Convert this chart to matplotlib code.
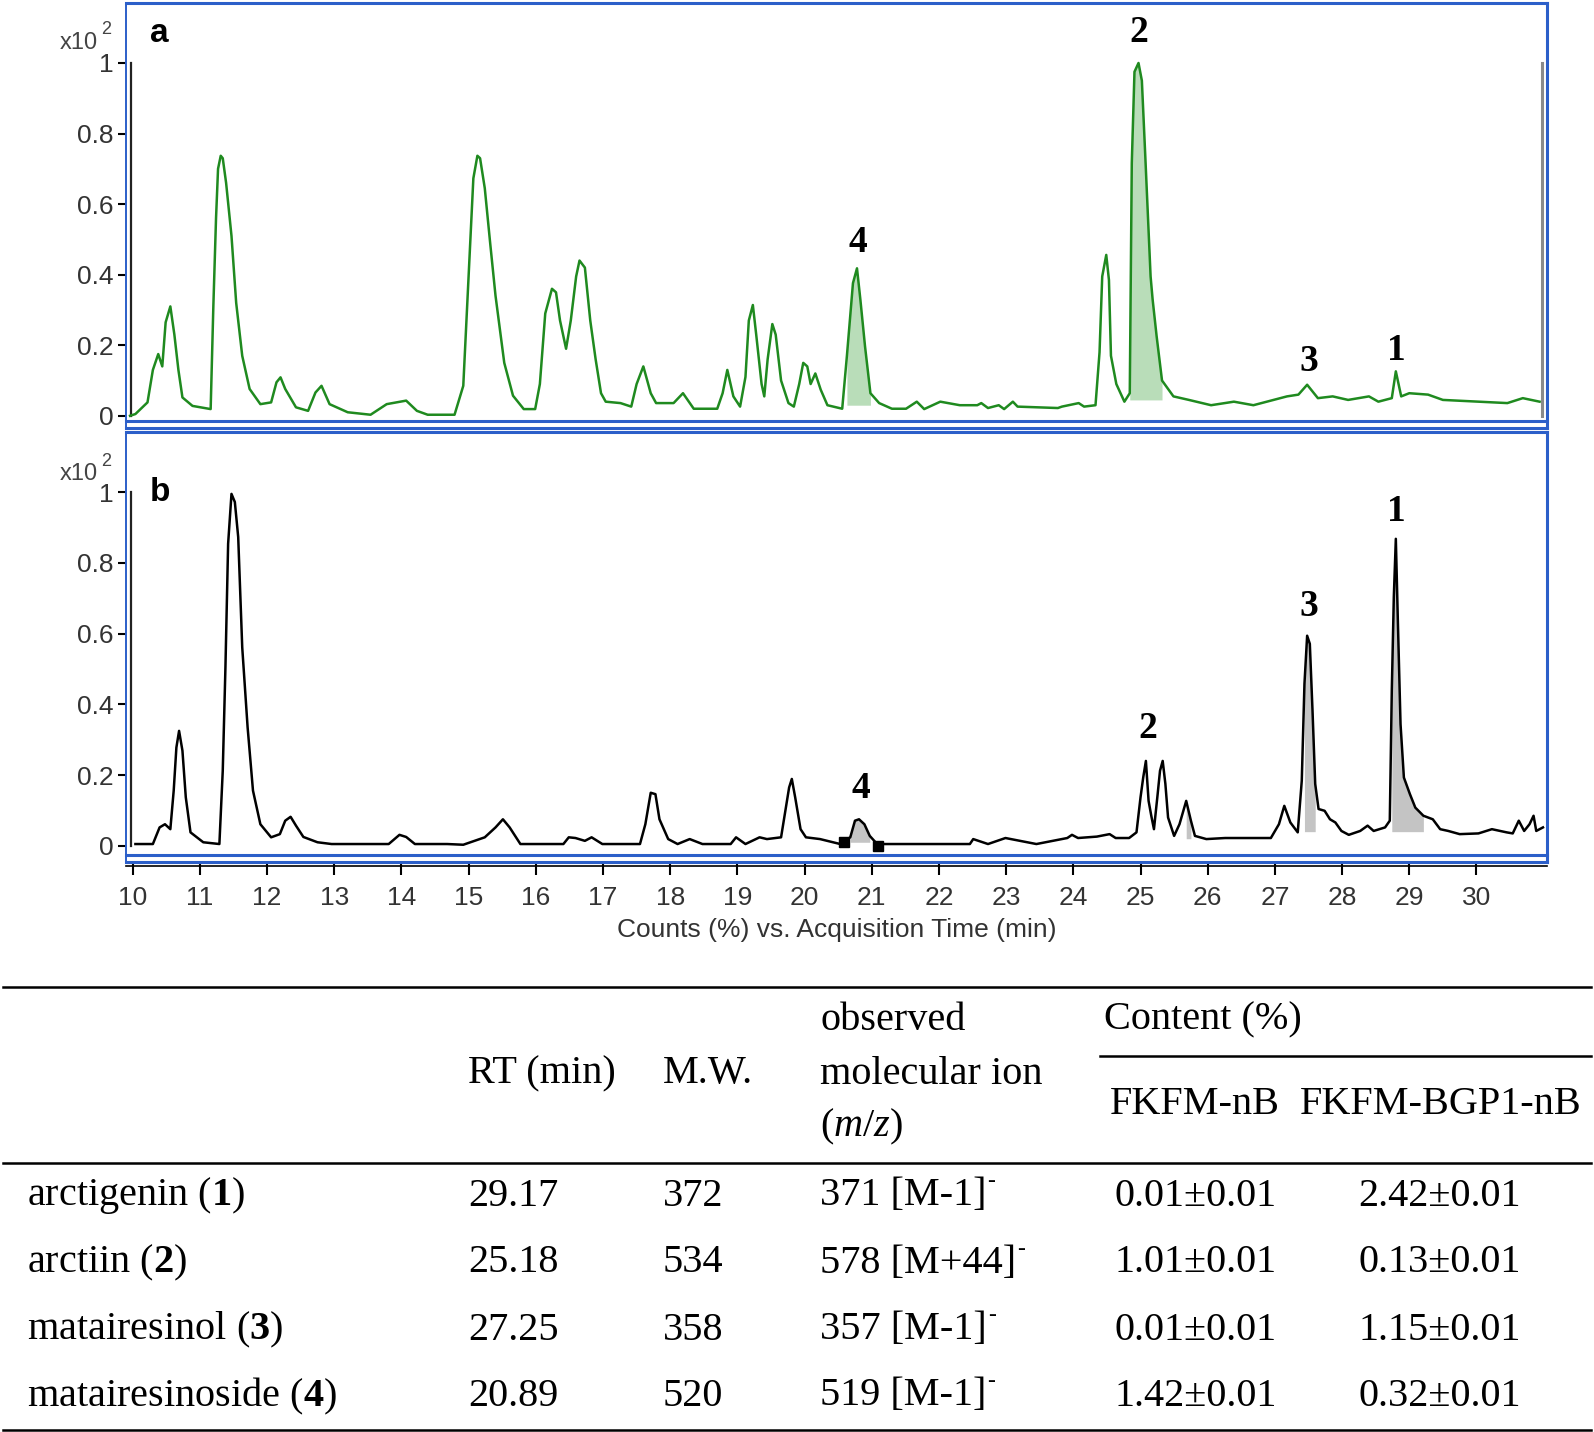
import matplotlib
matplotlib.use("Agg")
import matplotlib.pyplot as plt
from matplotlib.lines import Line2D
import numpy as np

# ---------------- data ----------------
# Panel a (green trace): retention time (min), relative counts (x10^2)
top_t = [9.96, 10.04, 10.22, 10.30, 10.38, 10.44, 10.49, 10.56, 10.62, 10.68, 10.74, 10.89,
         11.16, 11.20, 11.24, 11.27, 11.31, 11.34, 11.39, 11.47, 11.54, 11.63, 11.74, 11.90, 12.06,
         12.14, 12.20, 12.27, 12.43, 12.61, 12.72, 12.81, 12.93, 13.20, 13.54, 13.78, 14.07,
         14.23, 14.39, 14.79, 14.92, 15.00, 15.07, 15.13, 15.17, 15.24, 15.32, 15.40, 15.53, 15.66,
         15.82, 15.99, 16.06, 16.14, 16.24, 16.30, 16.36, 16.45, 16.52, 16.60, 16.65, 16.73,
         16.81, 16.89, 16.97, 17.04, 17.26, 17.42, 17.50, 17.60, 17.71, 17.79, 18.05, 18.19,
         18.35, 18.70, 18.78, 18.85, 18.94, 19.04, 19.12, 19.17, 19.23, 19.28, 19.36, 19.40,
         19.45, 19.52, 19.57, 19.65, 19.76, 19.84, 19.92, 19.98, 20.04, 20.09, 20.16, 20.24,
         20.34, 20.56, 20.63, 20.72, 20.78, 20.83, 20.90, 20.98, 21.11, 21.30, 21.51, 21.67,
         21.78, 22.02, 22.31, 22.57, 22.63, 22.73, 22.89, 22.97, 23.10, 23.17, 23.77, 23.83,
         24.08, 24.16, 24.33, 24.39, 24.43, 24.49, 24.53, 24.56, 24.64, 24.76, 24.84, 24.87,
         24.91, 24.97, 25.02, 25.07, 25.11, 25.15, 25.18, 25.24, 25.32, 25.49, 25.72, 26.05,
         26.39, 26.68, 27.18, 27.35, 27.48, 27.64, 27.86, 28.09, 28.40, 28.54, 28.74, 28.80,
         28.88, 29.00, 29.28, 29.50, 30.46, 30.69, 30.94]
top_v = [0.000, 0.005, 0.038, 0.130, 0.175, 0.140, 0.265, 0.310, 0.230, 0.130, 0.052, 0.028,
         0.019, 0.310, 0.560, 0.700, 0.737, 0.730, 0.660, 0.510, 0.320, 0.170, 0.076, 0.033, 0.038,
         0.095, 0.109, 0.076, 0.024, 0.014, 0.066, 0.085, 0.033, 0.010, 0.003, 0.033, 0.043,
         0.014, 0.003, 0.003, 0.085, 0.400, 0.673, 0.737, 0.730, 0.645, 0.490, 0.340, 0.150, 0.057,
         0.019, 0.019, 0.090, 0.290, 0.360, 0.350, 0.270, 0.190, 0.270, 0.395, 0.440, 0.420,
         0.270, 0.160, 0.064, 0.040, 0.036, 0.026, 0.090, 0.140, 0.064, 0.036, 0.036, 0.064,
         0.020, 0.020, 0.064, 0.130, 0.055, 0.026, 0.110, 0.270, 0.314, 0.230, 0.090, 0.055,
         0.160, 0.260, 0.230, 0.100, 0.036, 0.026, 0.090, 0.150, 0.140, 0.090, 0.120, 0.074,
         0.030, 0.020, 0.170, 0.376, 0.418, 0.330, 0.196, 0.064, 0.036, 0.020, 0.020, 0.040,
         0.019, 0.040, 0.030, 0.030, 0.036, 0.022, 0.030, 0.019, 0.040, 0.026, 0.022, 0.026,
         0.036, 0.026, 0.030, 0.180, 0.395, 0.456, 0.385, 0.170, 0.090, 0.040, 0.064, 0.716,
         0.975, 1.000, 0.950, 0.740, 0.565, 0.395, 0.330, 0.225, 0.100, 0.055, 0.045, 0.030,
         0.040, 0.030, 0.055, 0.060, 0.088, 0.050, 0.055, 0.045, 0.055, 0.040, 0.050, 0.126,
         0.055, 0.064, 0.060, 0.045, 0.036, 0.050, 0.040]

# Panel b (black trace)
bot_t = [10.04, 10.30, 10.40, 10.48, 10.56, 10.61, 10.65, 10.69, 10.74, 10.79, 10.86, 11.05,
         11.29, 11.34, 11.38, 11.42, 11.47, 11.52, 11.57, 11.63, 11.71, 11.79, 11.90, 12.06,
         12.19, 12.27, 12.35, 12.43, 12.54, 12.75, 12.96, 13.81, 13.97, 14.07, 14.20, 14.68,
         14.92, 15.24, 15.40, 15.51, 15.61, 15.77, 16.41, 16.49, 16.59, 16.73, 16.83, 16.99,
         17.55, 17.63, 17.71, 17.78, 17.84, 17.97, 18.11, 18.29, 18.48, 18.90, 18.98, 19.12,
         19.33, 19.44, 19.65, 19.73, 19.77, 19.81, 19.86, 19.94, 20.02, 20.23, 20.53, 20.68,
         20.75, 20.81, 20.89, 20.97, 21.08, 21.29, 22.46, 22.51, 22.73, 22.99, 23.45, 23.91,
         23.98, 24.07, 24.35, 24.54, 24.63, 24.83, 24.94, 25.00, 25.04, 25.08, 25.12, 25.16,
         25.20, 25.25, 25.29, 25.33, 25.37, 25.41, 25.50, 25.58, 25.68, 25.75, 25.81, 25.98,
         26.26, 26.94, 27.06, 27.14, 27.23, 27.34, 27.40, 27.44, 27.48, 27.52, 27.56, 27.60,
         27.65, 27.74, 27.82, 27.90, 27.99, 28.10, 28.27, 28.38, 28.47, 28.64, 28.71, 28.74,
         28.77, 28.80, 28.83, 28.87, 28.92, 29.01, 29.09, 29.21, 29.35, 29.46, 29.58, 29.75,
         30.03, 30.23, 30.45, 30.54, 30.63, 30.71, 30.79, 30.85, 30.89, 30.99]
bot_v = [0.005, 0.005, 0.052, 0.061, 0.047, 0.156, 0.278, 0.325, 0.269, 0.137, 0.038, 0.010,
         0.005, 0.212, 0.505, 0.854, 0.995, 0.972, 0.873, 0.561, 0.335, 0.156, 0.061, 0.024,
         0.033, 0.071, 0.082, 0.057, 0.025, 0.010, 0.005, 0.005, 0.031, 0.025, 0.005, 0.005,
         0.003, 0.024, 0.052, 0.075, 0.052, 0.005, 0.005, 0.024, 0.022, 0.014, 0.024, 0.005,
         0.005, 0.061, 0.150, 0.146, 0.075, 0.019, 0.005, 0.019, 0.005, 0.005, 0.024, 0.005,
         0.024, 0.019, 0.024, 0.118, 0.165, 0.189, 0.137, 0.047, 0.024, 0.019, 0.005, 0.024,
         0.071, 0.075, 0.061, 0.028, 0.005, 0.005, 0.005, 0.019, 0.005, 0.022, 0.005, 0.022,
         0.031, 0.022, 0.026, 0.033, 0.022, 0.022, 0.038, 0.137, 0.193, 0.240, 0.127, 0.085,
         0.047, 0.137, 0.212, 0.240, 0.175, 0.080, 0.028, 0.061, 0.127, 0.071, 0.028, 0.019,
         0.022, 0.022, 0.061, 0.113, 0.066, 0.038, 0.184, 0.458, 0.594, 0.571, 0.382, 0.175,
         0.104, 0.099, 0.075, 0.066, 0.042, 0.031, 0.042, 0.057, 0.042, 0.052, 0.071, 0.439,
         0.703, 0.868, 0.637, 0.344, 0.193, 0.146, 0.108, 0.085, 0.075, 0.047, 0.042, 0.033,
         0.035, 0.047, 0.038, 0.035, 0.071, 0.042, 0.061, 0.085, 0.042, 0.052]

# integrated (shaded) peak windows
top_fill = [(20.60, 20.99, 0.03), (24.84, 25.33, 0.045)]
bot_fill = [(20.66, 20.98, 0.01), (25.62, 25.80, 0.02), (27.42, 27.62, 0.04), (28.72, 29.30, 0.04)]
bot_marks_t = [20.58, 21.10]
bot_marks_v = [0.01, 0.0]

# peak annotations
top_labels = ["2", "4", "3", "1"]
top_label_t = [24.97, 20.80, 27.50, 28.81]
top_label_v = [1.085, 0.49, 0.155, 0.184]
bot_labels = ["1", "3", "2", "4"]
bot_label_t = [28.81, 27.51, 25.11, 20.84]
bot_label_v = [0.946, 0.678, 0.333, 0.163]

x_ticks = list(range(10, 31))
y_ticks = [0, 0.2, 0.4, 0.6, 0.8, 1.0]
y_ticklabels = ["0", "0.2", "0.4", "0.6", "0.8", "1"]

# table
col_headers_rt = "RT (min)"
col_headers_mw = "M.W."
compounds = [r"arctigenin ($\mathbf{1}$)", r"arctiin ($\mathbf{2}$)",
             r"matairesinol ($\mathbf{3}$)", r"matairesinoside ($\mathbf{4}$)"]
rt_values = ["29.17", "25.18", "27.25", "20.89"]
mw_values = ["372", "534", "358", "520"]
ion_values = ["371 [M-1]", "578 [M+44]", "357 [M-1]", "519 [M-1]"]
fkfm_nb = ["0.01\u00b10.01", "1.01\u00b10.01", "0.01\u00b10.01", "1.42\u00b10.01"]
fkfm_bgp1 = ["2.42\u00b10.01", "0.13\u00b10.01", "1.15\u00b10.01", "0.32\u00b10.01"]

# ---------------- styling ----------------
plt.rcParams['mathtext.fontset'] = 'custom'
plt.rcParams['mathtext.rm'] = 'Liberation Serif'
plt.rcParams['mathtext.bf'] = 'Liberation Serif:bold'
plt.rcParams['mathtext.it'] = 'Liberation Serif:italic'

W, H = 1594, 1432
fig = plt.figure(figsize=(W / 100, H / 100), dpi=100)
fig.patch.set_facecolor('white')

def fx(x):
    return x / W

def fy(y):
    return 1 - y / H

BLUE = '#2c5fc9'
GREEN = '#1f8a1f'
SANS = ['Liberation Sans Narrow', 'Liberation Sans', 'DejaVu Sans']
SERIF = ['Liberation Serif', 'DejaVu Serif']

L, R = 126, 1547
ax1 = fig.add_axes([fx(L), fy(428), fx(R) - fx(L), fy(3) - fy(428)])
ax2 = fig.add_axes([fx(L), fy(862), fx(R) - fx(L), fy(432) - fy(862)])

ax1.set_ylim(-0.0346, 1.170)
ax2.set_ylim(-0.0458, 1.170)

for ax in (ax1, ax2):
    ax.set_xlim(9.90, 31.05)
    for s in ax.spines.values():
        s.set_color(BLUE)
        s.set_linewidth(2.2)
    ax.spines['left'].set_linewidth(1.4)
    ax.set_yticks(y_ticks)
    ax.set_yticklabels(y_ticklabels, family=SANS, fontsize=19, color='#333333')
    ax.tick_params(axis='y', direction='out', length=6, width=1.5, color='black', pad=3)
    ax.add_line(Line2D([9.975, 9.975], [0, 1], color='#222222', lw=1.6))

ax1.set_xticks([])
ax2.set_xticks(x_ticks)
ax2.set_xticklabels([str(t) for t in x_ticks], family=SANS, fontsize=19, color='#333333')
ax2.tick_params(axis='x', direction='out', length=9, width=1.5, color='black', pad=8)
ax2.set_xlabel("Counts (%) vs. Acquisition Time (min)", family=SANS, fontsize=19,
               color='#333333', labelpad=6)

# traces
top_t_a = np.array(top_t)
top_v_a = np.array(top_v)
bot_t_a = np.array(bot_t)
bot_v_a = np.array(bot_v)

for a, b, base in top_fill:
    m = (top_t_a >= a) & (top_t_a <= b)
    ax1.fill_between(top_t_a[m], top_v_a[m], base, color='#b9ddb9', lw=0)
ax1.plot(top_t_a, top_v_a, color=GREEN, lw=1.8)
ax1.plot([30.98, 30.98], [0, 1], color='#8a8a8a', lw=2.2)

for a, b, base in bot_fill:
    m = (bot_t_a >= a) & (bot_t_a <= b)
    ax2.fill_between(bot_t_a[m], bot_v_a[m], base, color='#c4c4c4', lw=0)
ax2.plot(bot_t_a, bot_v_a, color='black', lw=1.8)
ax2.plot(bot_marks_t, bot_marks_v, ls='none', marker='s', ms=7, color='black')

for lab, t, v in zip(top_labels, top_label_t, top_label_v):
    ax1.text(t, v, lab, ha='center', va='center', family=SERIF, fontweight='bold', fontsize=27)
for lab, t, v in zip(bot_labels, bot_label_t, bot_label_v):
    ax2.text(t, v, lab, ha='center', va='center', family=SERIF, fontweight='bold', fontsize=27)

# panel letters and multipliers
fig.text(fx(150), fy(33), "a", family='Liberation Sans', fontweight='bold', fontsize=24,
         ha='left', va='center')
fig.text(fx(150), fy(493), "b", family='Liberation Sans', fontweight='bold', fontsize=24,
         ha='left', va='center')
for yy in (43, 474):
    fig.text(fx(98), fy(yy), "x10", family=SANS, fontsize=17, color='#444444',
             ha='right', va='center')
    fig.text(fx(101), fy(yy - 13), "2", family=SANS, fontsize=13, color='#444444',
             ha='left', va='center')

# extra frame lines (double blue rule under each panel, black axis line)
for y in (421, 855):
    fig.add_artist(Line2D([fx(L), fx(R)], [fy(y), fy(y)], color=BLUE, lw=2.2))
fig.add_artist(Line2D([fx(L), fx(R)], [fy(866), fy(866)], color='black', lw=1.2))

# ---------------- table ----------------
TS = 29
rule_x0, rule_x1 = 3, 1591
def hline(y, x0=rule_x0, x1=rule_x1, lw=1.8):
    fig.add_artist(Line2D([fx(x0), fx(x1)], [fy(y), fy(y)], color='black', lw=lw))

hline(987)
hline(1056, x0=1100)
hline(1163)
hline(1430)

def ttext(x, y, s, **kw):
    return fig.text(fx(x), fy(y), s, family=SERIF, fontsize=TS, ha='left', va='center', **kw)

ttext(820, 1020, "observed")
ttext(820, 1074, "molecular ion")
ttext(820, 1127, r"($\mathit{m/z}$)")
ttext(468, 1074, col_headers_rt)
ttext(663, 1074, col_headers_mw)
ttext(1104, 1020, "Content (%)")
ttext(1110, 1105, "FKFM-nB")
ttext(1300, 1105, "FKFM-BGP1-nB")

row_y = [1196, 1263, 1330, 1396]
ion_texts = []
for i, y in enumerate(row_y):
    ttext(27, y, compounds[i])
    ttext(468, y, rt_values[i])
    ttext(663, y, mw_values[i])
    ion_texts.append(ttext(820, y, ion_values[i]))
    ttext(1115, y, fkfm_nb[i])
    ttext(1358, y, fkfm_bgp1[i])

# small superscript charge sign after each ion
fig.canvas.draw()
renderer = fig.canvas.get_renderer()
for t, y in zip(ion_texts, row_y):
    bb = t.get_window_extent(renderer)
    fig.text(bb.x1 / W + 1.0 / W, fy(y - 14), "-", family=SERIF, fontsize=17,
             ha='left', va='center')

fig.savefig("out.png", dpi=100)
